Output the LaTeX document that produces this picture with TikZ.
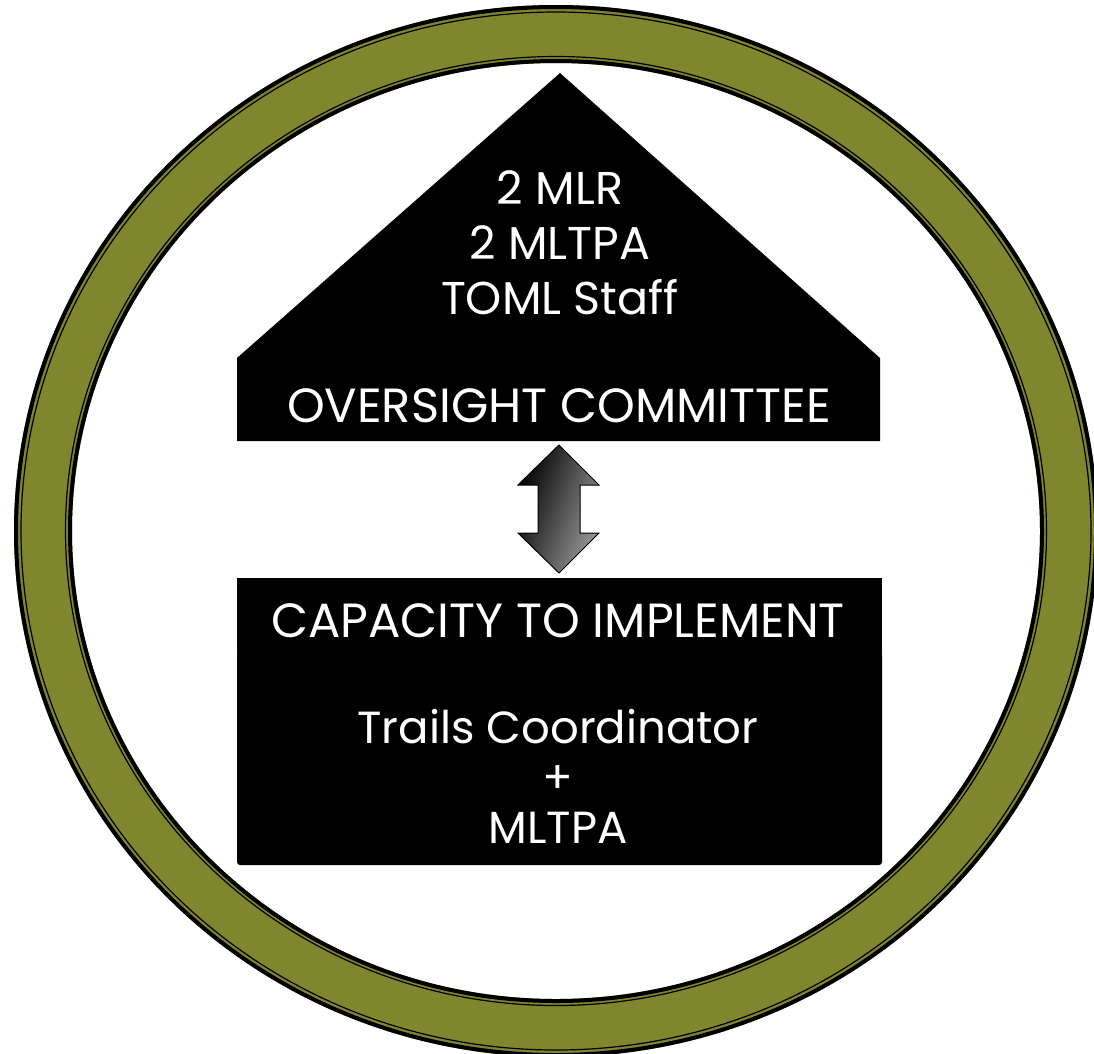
\documentclass[tikz,border=0pt]{standalone}
\usepackage{fontspec}
\setmainfont{Poppins}
\usetikzlibrary{positioning}
\definecolor{ringolive}{RGB}{128,134,46}

\begin{document}
\begin{tikzpicture}[x=1pt,y=-1pt,
    word/.style = {text=white, align=center, inner sep=0pt, font=\fontsize{46}{55}\selectfont},
    head/.style = {word, font=\fontsize{48}{55}\selectfont},
    block/.style = {fill=black},
    edge/.style = {draw=black, line width=4},
    hair/.style = {draw=black, line width=1.2}]
	\useasboundingbox (0,0) rectangle (1094,1053);
	\clip (0,0) rectangle (1094,1053);
	% ring
	\coordinate (c) at (556,531);
	\fill[ringolive, even odd rule] (c) ellipse [x radius=542, y radius=526] (c) ellipse [x radius=484, y radius=468];
	\path[edge] (c) ellipse [x radius=540, y radius=524];
	\path[hair] (c) ellipse [x radius=535, y radius=519];
	\path[edge] (c) ellipse [x radius=486, y radius=470];
	\path[hair] (c) ellipse [x radius=490.5, y radius=474.5];
	% house
	\fill[block] (237,358) -- (560,73) -- (880,358) -- (880,441) -- (237,441) -- cycle;
	\node[word] (staff) at (560,243) {2 MLR\\2 MLTPA\\TOML Staff};
	\node[head] (oversight) at (559,406) {OVERSIGHT COMMITTEE};
	% lower box
	\fill[block] (237,578) rectangle (882,654);
	\fill[block, rounded corners=3] (237,652) rectangle (882,865);
	\node[head] (capacity) at (558,621) {CAPACITY TO IMPLEMENT};
	\node[word, font=\fontsize{45}{50}\selectfont] (trails) at (558,776) {Trails Coordinator\\+\\MLTPA};
	% double arrow
	\shade[draw=black, line width=1, left color=black, right color=black!40, shading angle=70]
		(559,445) -- (599,485) -- (580,485) -- (580,533) -- (599,533) -- (559,573)
		-- (518,533) -- (538,533) -- (538,485) -- (518,485) -- cycle;
\end{tikzpicture}
\end{document}
